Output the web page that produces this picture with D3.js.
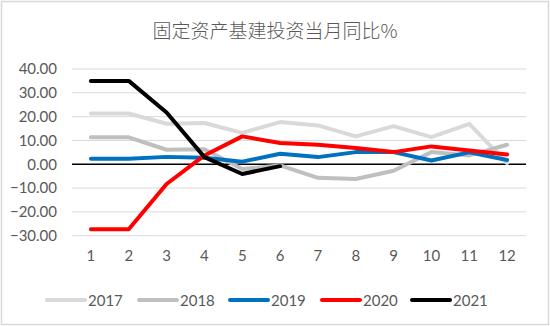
<!DOCTYPE html>
<html><head><meta charset="utf-8">
<script src="https://cdn.jsdelivr.net/npm/d3@7"></script>
<style>body{margin:0;background:#fff}svg{display:block}</style>
</head><body>
<script>
const months = [1,2,3,4,5,6,7,8,9,10,11,12];
const yTicks = [40,30,20,10,0,-10,-20,-30];
const seriesNames = ["2017","2018","2019","2020","2021"];
const seriesColors = ["#d9d9d9","#bfbfbf","#0070c0","#ff0000","#000000"];
const v2017 = [21.3,21.3,17.0,17.3,13.2,17.7,16.3,11.7,16.0,11.4,17.0,0.5];
const v2018 = [11.3,11.3,6.1,6.3,-2.0,-0.5,-5.7,-6.2,-2.7,5.1,3.7,8.2];
const v2019 = [2.3,2.3,3.1,2.7,1.1,4.4,3.0,5.1,5.1,1.6,5.0,1.8];
const v2020 = [-27.3,-27.3,-8.3,3.7,11.7,8.9,8.2,6.8,5.1,7.5,5.8,4.1];
const v2021 = [35.0,35.0,21.7,3.0,-4.1,-0.8];
const seriesValues = [v2017,v2018,v2019,v2020,v2021];
const title = "固定资产基建投资当月同比%";

const W=550,H=326;
const svg=d3.select("body").append("svg").attr("width",W).attr("height",H);
const font="Lato, 'Noto Sans', sans-serif";
svg.append("rect").attr("x",1.5).attr("y",1.5).attr("width",W-3).attr("height",H-3)
  .attr("fill","#fff").attr("stroke","#d9d9d9").attr("stroke-width",1.5);

svg.append("text").attr("x",275).attr("y",38).attr("text-anchor","middle")
  .attr("font-family","'Noto Sans CJK SC', sans-serif").attr("font-size",19)
  .attr("font-weight",300).attr("fill","#595959").text(title);

const x=d3.scaleBand().domain(months).range([72,526]);
const y=d3.scaleLinear().domain([-30,40]).range([235.7,69]);

// gridlines
svg.append("g").selectAll("line").data(yTicks.filter(d=>d!==0)).join("line")
  .attr("x1",72).attr("x2",526).attr("y1",d=>y(d)).attr("y2",d=>y(d))
  .attr("stroke","#d9d9d9").attr("stroke-width",1);

// y axis labels
const ya=svg.append("g").attr("transform","translate(57,0)")
  .call(d3.axisLeft(y).tickValues(yTicks).tickFormat(d3.format(".2f")).tickSize(0).tickPadding(0));
ya.select(".domain").remove();
ya.selectAll("text").attr("font-family",font).attr("font-size",15).attr("fill","#595959");

// x axis labels
const xa=svg.append("g").attr("transform","translate(0,250)")
  .call(d3.axisBottom(x).tickSize(0).tickPadding(0));
xa.select(".domain").remove();
xa.selectAll("text").attr("font-family",font).attr("font-size",15).attr("fill","#595959").attr("dy","0.75em");

// zero line
svg.append("line").attr("x1",72).attr("x2",526).attr("y1",y(0)).attr("y2",y(0))
  .attr("stroke","#000").attr("stroke-width",1.5);

const line=d3.line().x((d,i)=>x(months[i])+x.bandwidth()/2).y(d=>y(d));
seriesValues.forEach((vals,k)=>{
  svg.append("path").datum(vals).attr("d",line).attr("fill","none")
    .attr("stroke",seriesColors[k]).attr("stroke-width",4)
    .attr("stroke-linejoin","round").attr("stroke-linecap","round");
});

// legend
const lx=[45,137,228,320,410];
const lg=svg.append("g");
seriesNames.forEach((n,k)=>{
  lg.append("line").attr("x1",lx[k]+2).attr("x2",lx[k]+40).attr("y1",300).attr("y2",300)
    .attr("stroke",seriesColors[k]).attr("stroke-width",4).attr("stroke-linecap","round");
  lg.append("text").attr("x",lx[k]+43).attr("y",305.5).attr("font-family",font)
    .attr("font-size",15).attr("fill","#595959").text(n);
});
</script>
</body></html>
